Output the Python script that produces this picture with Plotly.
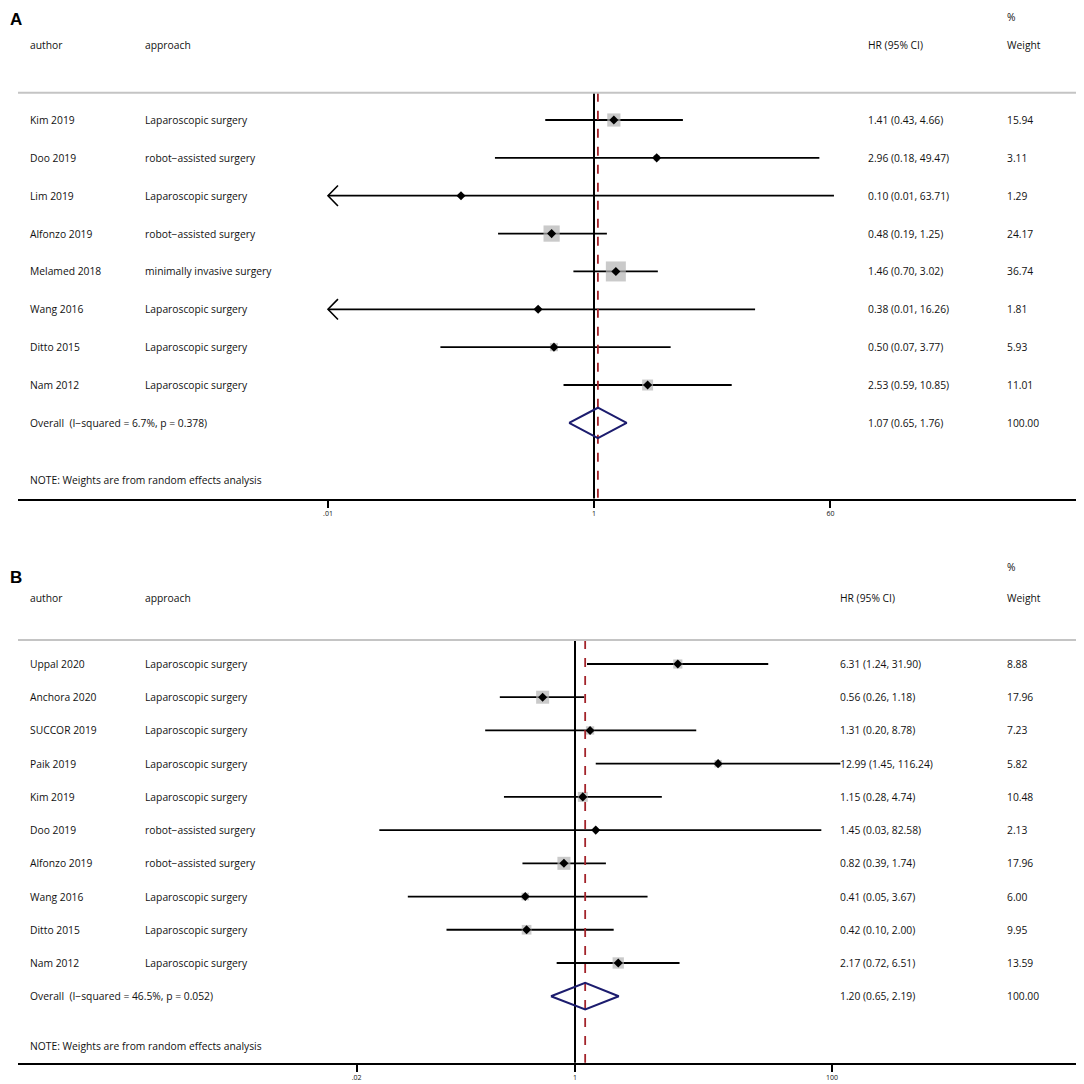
import numpy as np
import plotly.graph_objects as go

# --- panel A data ---
a_author = ["Kim 2019", "Doo 2019", "Lim 2019", "Alfonzo 2019", "Melamed 2018",
            "Wang 2016", "Ditto 2015", "Nam 2012"]
a_approach = ["Laparoscopic surgery", "robot\u2212assisted surgery", "Laparoscopic surgery",
              "robot\u2212assisted surgery", "minimally invasive surgery", "Laparoscopic surgery",
              "Laparoscopic surgery", "Laparoscopic surgery"]
a_hr = [1.41, 2.96, 0.10, 0.48, 1.46, 0.38, 0.50, 2.53]
a_lo = [0.43, 0.18, 0.01, 0.19, 0.70, 0.01, 0.07, 0.59]
a_hi = [4.66, 49.47, 63.71, 1.25, 3.02, 16.26, 3.77, 10.85]
a_weight = [15.94, 3.11, 1.29, 24.17, 36.74, 1.81, 5.93, 11.01]
a_overall = [1.07, 0.65, 1.76]
a_overall_label = "Overall  (I\u2212squared = 6.7%, p = 0.378)"
a_ticks = [0.01, 1, 60]
a_ticktext = [".01", "1", "60"]

# --- panel B data ---
b_author = ["Uppal 2020", "Anchora 2020", "SUCCOR 2019", "Paik 2019", "Kim 2019",
            "Doo 2019", "Alfonzo 2019", "Wang 2016", "Ditto 2015", "Nam 2012"]
b_approach = ["Laparoscopic surgery", "Laparoscopic surgery", "Laparoscopic surgery",
              "Laparoscopic surgery", "Laparoscopic surgery", "robot\u2212assisted surgery",
              "robot\u2212assisted surgery", "Laparoscopic surgery", "Laparoscopic surgery",
              "Laparoscopic surgery"]
b_hr = [6.31, 0.56, 1.31, 12.99, 1.15, 1.45, 0.82, 0.41, 0.42, 2.17]
b_lo = [1.24, 0.26, 0.20, 1.45, 0.28, 0.03, 0.39, 0.05, 0.10, 0.72]
b_hi = [31.90, 1.18, 8.78, 116.24, 4.74, 82.58, 1.74, 3.67, 2.00, 6.51]
b_weight = [8.88, 17.96, 7.23, 5.82, 10.48, 2.13, 17.96, 6.00, 9.95, 13.59]
b_overall = [1.20, 0.65, 2.19]
b_overall_label = "Overall  (I\u2212squared = 46.5%, p = 0.052)"
b_ticks = [0.02, 1, 100]
b_ticktext = [".02", "1", "100"]

FONT = "Open Sans"
TXT = "#111111"
OFF = 8            # page margin around the plot div
W = H = 1076
ML, MR = 18 - OFF, W - (1078 - OFF)

fig = go.Figure()
annotations = []
shapes = []


def px2paper(px):
    # px measured on the page, left edge of the axis line at 18, right edge at 1078
    return (px - 18) / (1078 - 18)


def add_panel(n, letter, authors, approach, hr, lo, hi, weight, overall, ov_label,
              hr_x, xmin, sq_k, top_row, letter_row, pct_row):
    xa = "x" if n == 1 else "x2"
    ya = "y" if n == 1 else "y2"
    k = len(authors)
    rows = list(range(k))
    ov_row = k
    note_row = k + 1.5
    axis_row = k + 2.0

    # confidence interval lines
    cx, cy = [], []
    for i in rows:
        cx += [lo[i], hi[i], None]
        cy += [i, i, None]
    fig.add_trace(go.Scatter(x=cx, y=cy, mode="lines", xaxis=xa, yaxis=ya,
                             line=dict(color="black", width=1.8), hoverinfo="skip"))

    # arrows where the lower bound hits the axis minimum
    ax_, ay_ = [], []
    for i in rows:
        if lo[i] <= xmin:
            ax_ += [lo[i] * 10 ** 0.075, lo[i], lo[i] * 10 ** 0.075, None]
            ay_ += [i - 0.27, i, i + 0.27, None]
    if ax_:
        fig.add_trace(go.Scatter(x=ax_, y=ay_, mode="lines", xaxis=xa, yaxis=ya,
                                 line=dict(color="black", width=1.6), hoverinfo="skip"))

    # weight squares
    fig.add_trace(go.Scatter(x=hr, y=rows, mode="markers", xaxis=xa, yaxis=ya,
                             marker=dict(symbol="square", color="#b3b3b3",
                                         size=[sq_k * np.sqrt(w) for w in weight],
                                         line=dict(width=0))))
    # reference lines
    fig.add_trace(go.Scatter(x=[1, 1], y=[-0.72, axis_row], mode="lines", xaxis=xa, yaxis=ya,
                             line=dict(color="black", width=2), hoverinfo="skip"))
    fig.add_trace(go.Scatter(x=[overall[0], overall[0]], y=[-0.72, axis_row], mode="lines",
                             xaxis=xa, yaxis=ya,
                             line=dict(color="#a3242b", width=1.8, dash="dash"), hoverinfo="skip"))
    # point estimates
    fig.add_trace(go.Scatter(x=hr, y=rows, mode="markers", xaxis=xa, yaxis=ya,
                             marker=dict(symbol="diamond", color="black", size=7)))
    # overall diamond
    est, olo, ohi = overall
    fig.add_trace(go.Scatter(x=[olo, est, ohi, est, olo],
                             y=[ov_row, ov_row - 0.4, ov_row, ov_row + 0.4, ov_row],
                             mode="lines", xaxis=xa, yaxis=ya,
                             line=dict(color="#1c1c6e", width=2), hoverinfo="skip"))

    # separator
    shapes.append(dict(type="line", xref="paper", yref=ya, x0=0, x1=1, y0=-0.72, y1=-0.72,
                       line=dict(color="#c4c4c4", width=2)))

    def txt(x, y, s, size=10.3, yanchor="middle"):
        annotations.append(dict(xref="paper", yref=ya, x=x, y=y, text=s,
                                showarrow=False, xanchor="left", yanchor=yanchor,
                                font=dict(family=FONT, size=size, color=TXT)))

    c_auth, c_app, c_hr, c_w = (px2paper(28), px2paper(143), px2paper(hr_x - 2),
                                px2paper(1005))
    txt(c_auth, -1.98, "author")
    txt(c_app, -1.98, "approach")
    txt(c_hr, -1.98, "HR (95% CI)")
    txt(c_w, -1.98, "Weight")
    txt(c_w, pct_row, "%", yanchor="top")
    for i in rows:
        txt(c_auth, i, authors[i])
        txt(c_app, i, approach[i])
        txt(c_hr, i, f"{hr[i]:.2f} ({lo[i]:.2f}, {hi[i]:.2f})")
        txt(c_w, i, f"{weight[i]:.2f}")
    txt(c_auth, ov_row, ov_label)
    txt(c_hr, ov_row, f"{est:.2f} ({olo:.2f}, {ohi:.2f})")
    txt(c_w, ov_row, f"{sum(weight):.2f}")
    txt(c_auth, note_row, "NOTE: Weights are from random effects analysis")
    annotations.append(dict(xref="paper", yref=ya, x=px2paper(8), y=letter_row,
                            text=f"<b>{letter}</b>", showarrow=False, xanchor="left",
                            yanchor="top", font=dict(family="Liberation Sans", size=17,
                                                     color="black")))


# page geometry: panel A rows from y=120 every 37.86 px, 1 at x=594, 133 px/decade
#                panel B rows from y=664 every 33.22 px, 1 at x=575, 128.5 px/decade
a_pitch, a_y0 = 37.86, 120
b_pitch, b_y0 = 33.22, 664

add_panel(1, "A", a_author, a_approach, a_hr, a_lo, a_hi, a_weight, a_overall, a_overall_label,
          868, 0.01, 3.3, None, (OFF - a_y0) / a_pitch, (OFF - a_y0) / a_pitch)
add_panel(2, "B", b_author, b_approach, b_hr, b_lo, b_hi, b_weight, b_overall, b_overall_label,
          840, 0.02, 3.07, None, (566 - b_y0) / b_pitch, (558 - b_y0) / b_pitch)

xcommon = dict(type="log", showgrid=False, zeroline=False, showline=True, linecolor="black",
               linewidth=2, ticks="outside", ticklen=7, tickwidth=2, tickcolor="black",
               tickfont=dict(family=FONT, size=7, color=TXT), domain=[0, 1])


def ydom(top_px, bot_px):
    return [1 - (bot_px - OFF) / H, 1 - (top_px - OFF) / H]


fig.update_layout(
    width=W, height=H,
    margin=dict(l=ML, r=MR, t=0, b=0),
    paper_bgcolor="white", plot_bgcolor="white",
    showlegend=False,
    xaxis=dict(xcommon, range=[(18 - 594) / 133, (1078 - 594) / 133],
               tickvals=a_ticks, ticktext=a_ticktext, anchor="y"),
    yaxis=dict(visible=False, domain=ydom(OFF, 499),
               range=[(499 - a_y0) / a_pitch, (OFF - a_y0) / a_pitch], anchor="x"),
    xaxis2=dict(xcommon, range=[(18 - 575) / 128.5, (1078 - 575) / 128.5],
                tickvals=b_ticks, ticktext=b_ticktext, anchor="y2"),
    yaxis2=dict(visible=False, domain=ydom(530, 1063),
                range=[(1063 - b_y0) / b_pitch, (530 - b_y0) / b_pitch], anchor="x2"),
    annotations=annotations,
    shapes=shapes,
)

fig.write_html("out.html")
